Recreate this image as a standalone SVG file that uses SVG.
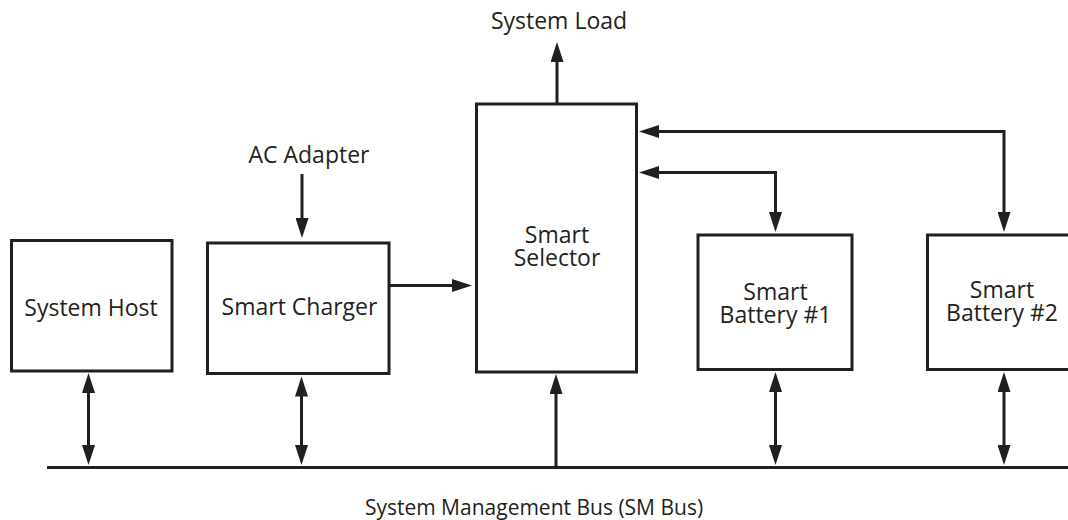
<svg xmlns="http://www.w3.org/2000/svg" width="1068" height="520" viewBox="0 0 1068 520">
<style>
.box{fill:#fff;stroke:#231f20;stroke-width:3}
.lbl{font-family:"Open Sans","Noto Sans",sans-serif;font-size:23px;fill:#231f20;text-anchor:middle}
.ln{fill:none;stroke:#231f20;stroke-width:3}
.end{marker-end:url(#ah)}
.both{marker-start:url(#ah);marker-end:url(#ah)}
</style>
<defs>
<marker id="ah" viewBox="0 0 20 13" markerWidth="20" markerHeight="13" refX="2" refY="6.5" orient="auto-start-reverse" markerUnits="userSpaceOnUse">
<path d="M0,0 L20,6.5 L0,13 Z" fill="#231f20"/>
</marker>
</defs>
<rect width="1068" height="520" fill="#fff"/>
<g id="connectors">
<line class="ln" x1="47" y1="467.5" x2="1068" y2="467.5"/>
<path class="ln end" d="M557,104 L557,60"/>
<path class="ln end" d="M302,174 L302,220"/>
<path class="ln end" d="M390,285.5 L454,285.5"/>
<path class="ln both" d="M657,131.5 L1004,131.5 L1004,214"/>
<path class="ln both" d="M657,172.5 L775.5,172.5 L775.5,214"/>
<path class="ln both" d="M88.5,391 L88.5,447"/>
<path class="ln both" d="M301.5,394.5 L301.5,447"/>
<path class="ln end" d="M556,467 L556,392"/>
<path class="ln both" d="M775.5,390 L775.5,447"/>
<path class="ln both" d="M1004,390 L1004,447"/>
</g>
<g id="system-host">
<rect class="box" x="11.5" y="240.5" width="160.5" height="130.5"/>
<text class="lbl" x="91" y="316">System Host</text>
</g>
<g id="smart-charger">
<rect class="box" x="207.5" y="243" width="181.5" height="130.5"/>
<text class="lbl" x="299.5" y="314.5">Smart Charger</text>
</g>
<g id="smart-selector">
<rect class="box" x="476.5" y="104" width="160" height="268"/>
<text class="lbl" x="557" y="242.5">Smart</text>
<text class="lbl" x="557" y="266">Selector</text>
</g>
<g id="smart-battery-1">
<rect class="box" x="698" y="235" width="154" height="134.5"/>
<text class="lbl" x="775.5" y="300">Smart</text>
<text class="lbl" x="775.5" y="323">Battery #1</text>
</g>
<g id="smart-battery-2">
<rect class="box" x="927.5" y="235" width="150" height="134.5"/>
<text class="lbl" x="1002" y="297.5">Smart</text>
<text class="lbl" x="1002" y="320.5">Battery #2</text>
</g>
<g id="labels">
<text class="lbl" x="559" y="29.3">System Load</text>
<text class="lbl" x="309" y="162.7">AC Adapter</text>
<text class="lbl" x="534" y="515" style="font-size:21px">System Management Bus (SM Bus)</text>
</g>
</svg>
